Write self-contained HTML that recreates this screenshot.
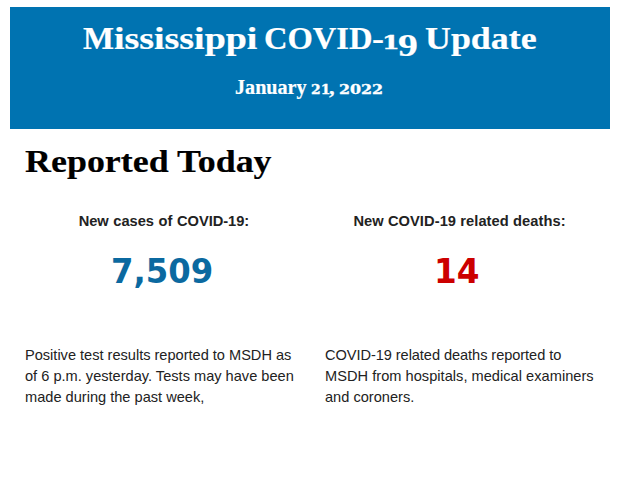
<!DOCTYPE html>
<html><head><meta charset="utf-8"><title>Mississippi COVID-19 Update</title>
<style>
html,body{margin:0;padding:0;background:#fff;}
body{width:620px;height:483px;position:relative;overflow:hidden;font-family:"Liberation Sans",Arial,sans-serif;color:#222;}
.banner{position:absolute;left:10px;top:7px;width:600px;height:122px;background:#0073b1;}
.g span{display:inline-block;transform-origin:0 50%;white-space:nowrap;vertical-align:baseline;}
#t3{position:relative;top:7px;}
.s{position:absolute;margin:0;display:block;white-space:nowrap;transform-origin:0 0;}
#ttl{position:absolute;left:0;top:23.4px;margin:0;font-size:0;line-height:0;white-space:nowrap;}
#t1{margin-left:82.87px;width:31.06px;font:bold 31.4px/1 "Liberation Serif",serif;color:#fff;transform:scaleX(1.0464);}
#t1a{margin-left:0px;width:150.08px;font:bold 31.4px/1 "Liberation Serif",serif;color:#fff;transform:scaleX(1.2081);}
#t1b{margin-left:0px;width:107.7px;font:bold 31.4px/1 "Liberation Serif",serif;color:#fff;transform:scaleX(1.0374);}
#t1c{margin-left:0px;width:10.06px;font:bold 31.4px/1 "Liberation Serif",serif;color:#fff;transform:scaleX(1.1427);}
#t2{margin-left:0px;width:15.96px;font:bold 19.2px/1 "DejaVu Serif",serif;color:#fff;transform:scaleX(1.319);}
#t3{margin-left:0px;width:27.37px;font:bold 31.4px/1 "Liberation Serif",serif;color:#fff;transform:scaleX(1.2623);}
#t4{margin-left:0px;font:bold 31.4px/1 "Liberation Serif",serif;color:#fff;transform:scaleX(1.1431);}
#dt{position:absolute;left:0;top:77.0px;margin:0;font-size:0;line-height:0;white-space:nowrap;}
#d1{margin-left:234.52px;width:76.27px;font:bold 20.8px/1 "Liberation Serif",serif;color:#fff;transform:scaleX(0.9682);}
#d2{margin-left:0px;width:18.55px;font:bold 13.7px/1 "DejaVu Serif",serif;color:#fff;transform:scaleX(1.0138);}
#d3{margin-left:0px;width:10.03px;font:bold 20.8px/1 "Liberation Serif",serif;color:#fff;transform:scaleX(1.0829);}
#d4{margin-left:0px;font:bold 13.7px/1 "DejaVu Serif",serif;color:#fff;transform:scaleX(1.1572);}
#h2{left:24.82px;top:145.6px;font:bold 31.4px/1 "Liberation Serif",serif;color:#000;transform:scaleX(1.1447);}
#n1{left:110.91px;top:255.0px;font:bold 33.5px/1 "DejaVu Sans",sans-serif;color:#0b69a0;transform:scaleX(0.9643);}
#n2{left:434.19px;top:254.5px;font:bold 33.5px/1 "DejaVu Sans",sans-serif;color:#cc0000;transform:scaleX(0.9768);}

#ttl span,#d1,#d3{-webkit-text-stroke:0.2px #fff;}
#h2{-webkit-text-stroke:0.15px #000;}
#ttl #t2,#d2,#d4{-webkit-text-stroke:0.35px #fff;}
.lbl{position:absolute;top:212px;font-weight:bold;font-size:14.67px;letter-spacing:0.075px;line-height:18px;text-align:center;width:300px;white-space:nowrap;}
.p{position:absolute;top:345px;font-size:14.6px;line-height:21px;width:290px;color:#222;white-space:nowrap;}
.p span{display:block;}
</style></head><body>
<div class="banner"></div>
<h1 id="ttl" class="g"><span id="t1">M</span><span id="t1a">ississippi</span> <span id="t1b">COVID</span><span id="t1c">-</span><span id="t2">1</span><span id="t3">9</span> <span id="t4">Update</span></h1>
<div id="dt" class="g"><span id="d1">January</span> <span id="d2">21</span><span id="d3">,</span> <span id="d4">2022</span></div>
<h2 class="s" id="h2">Reported Today</h2>
<div class="lbl" style="left:13.9px;word-spacing:0.7px;letter-spacing:-0.048px"><span id="l1">New cases of COVID-19:</span></div>
<div class="lbl" style="left:309.5px"><span id="l2">New COVID-19 related deaths:</span></div>
<div class="s" id="n1">7,509</div>
<div class="s" id="n2">14</div>
<div class="p" style="left:25px"><span id="p1a" style="letter-spacing:-0.012px">Positive test results reported to MSDH as</span> <span id="p1b">of 6 p.m. yesterday. Tests may have been</span> <span id="p1c">made during the past week,</span></div>
<div class="p" style="left:325px"><span id="p2a" style="letter-spacing:-0.065px">COVID-19 related deaths reported to</span> <span id="p2b" style="letter-spacing:0.027px">MSDH from hospitals, medical examiners</span> <span id="p2c">and coroners.</span></div>
</body></html>
